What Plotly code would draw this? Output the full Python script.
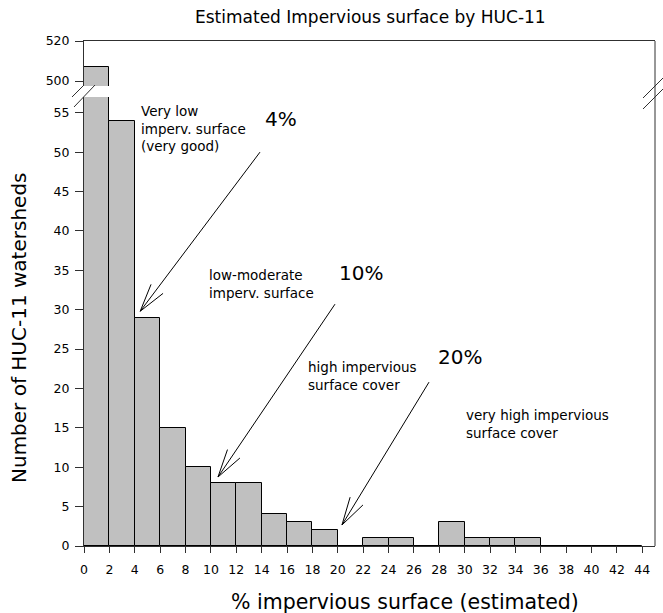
import plotly.graph_objects as go
import math

# ---------------- data ----------------
bin_left = list(range(0, 44, 2))            # 0,2,...,42
counts = [507, 54, 29, 15, 10, 8, 8, 4, 3, 2, 0, 1, 1, 0, 3, 1, 1, 1, 0, 0, 0, 0]
x_ticks = list(range(0, 45, 2))
y_ticks_low = list(range(0, 56, 5))
y_ticks_high = [500, 520]

title = "Estimated Impervious surface by HUC-11"
x_title = "% impervious surface (estimated)"
y_title = "Number of HUC-11 watersheds"

# annotation texts: (text, px_left, px_center_y, size)
labels = [
    ("Very low<br>imperv. surface<br>(very good)", 139, 128, 13.5),
    ("4%", 263, 119, 20),
    ("low-moderate<br>imperv. surface", 207, 284, 13.5),
    ("10%", 337, 273, 20),
    ("high impervious<br>surface cover", 306, 376, 13.5),
    ("20%", 436, 357, 20),
    ("very high impervious<br>surface cover", 464, 424, 13.5),
]
# arrows: (tail_x, tail_y, tip_x, tip_y) in data units of the lower panel
arrows = [
    (13.87, 50.0, 4.43, 29.8),
    (19.78, 30.7, 10.56, 8.76),
    (27.19, 20.8, 20.33, 2.67),
]

# ---------------- layout geometry ----------------
W, H = 663, 613
L, R, T, B = 84, 8, 41, 67
PW, PH = W - L - R, H - T - B
x_range = [0, 45]
low_range = [0, 57]
high_range = [497.5, 520]
low_top_px = 97
high_bot_px = 86
d1 = (H - B - low_top_px) / PH
d2 = (H - B - high_bot_px) / PH

def px2paper(px, py):
    return (px - L) / PW, (H - B - py) / PH

fnt = "DejaVu Sans, Arial, sans-serif"
centers = [b + 1 for b in bin_left]

fig = go.Figure()
for ax in ["x", "x2"]:
    fig.add_trace(go.Bar(
        x=centers, y=counts, width=2,
        marker=dict(color="#c0c0c0", line=dict(color="black", width=1)),
        xaxis=ax, yaxis="y" if ax == "x" else "y2",
        showlegend=False, hoverinfo="skip"))

axcommon = dict(showgrid=False, zeroline=False, showline=True, linecolor="#303030",
                linewidth=1, ticks="outside", tickcolor="#303030",
                tickfont=dict(family=fnt, size=12.5, color="black"))

fig.update_layout(
    width=W, height=H, margin=dict(l=L, r=R, t=T, b=B),
    plot_bgcolor="white", paper_bgcolor="white", bargap=0,
    xaxis=dict(axcommon, range=x_range, tickvals=x_ticks, anchor="y",
               ticklen=6, ticklabelstandoff=6),
    xaxis2=dict(showgrid=False, zeroline=False, showline=True, linecolor="#303030",
                range=x_range, anchor="y2", side="top", showticklabels=False,
                ticks="", matches="x"),
    yaxis=dict(axcommon, range=low_range, tickvals=y_ticks_low, domain=[0, d1],
               ticklen=8, ticklabelstandoff=3),
    yaxis2=dict(axcommon, range=high_range, tickvals=y_ticks_high, domain=[d2, 1],
                ticklen=8, ticklabelstandoff=3),
)

shapes = []
# right frame line, continuous
shapes.append(dict(type="line", xref="paper", yref="paper", x0=1, x1=1, y0=0, y1=1,
                   line=dict(color="#303030", width=1)))
# break marks (pixel coordinates -> paper)
for (a, b_, c, d) in [(72, 97, 84, 85), (74, 107, 95, 85),
                      (643, 98, 663, 78), (643, 109, 663, 89)]:
    x0, y0 = px2paper(a, b_)
    x1, y1 = px2paper(c, d)
    shapes.append(dict(type="line", xref="paper", yref="paper", x0=x0, y0=y0, x1=x1, y1=y1,
                       line=dict(color="#303030", width=1)))

# arrows with open V heads
sx = PW / (x_range[1] - x_range[0])
sy = (d1 * PH) / (low_range[1] - low_range[0])
for (tx, ty, hx, hy) in arrows:
    dxp = (tx - hx) * sx
    dyp = (ty - hy) * sy
    ang = math.atan2(dyp, dxp)
    hl = 29
    path = f"M{tx},{ty} L{hx},{hy}"
    for s in (-1, 1):
        a2 = ang + s * math.radians(15)
        ex = hx + hl * math.cos(a2) / sx
        ey = hy + hl * math.sin(a2) / sy
        path += f" M{hx},{hy} L{ex},{ey}"
    shapes.append(dict(type="path", xref="x", yref="y", path=path,
                       line=dict(color="black", width=1)))
fig.update_layout(shapes=shapes)

ann = []
for (txt, px, py, sz) in labels:
    xp, yp = px2paper(px, py)
    ann.append(dict(text=txt, x=xp, y=yp, xref="paper", yref="paper",
                    xanchor="left", yanchor="middle", align="left", showarrow=False,
                    font=dict(family=fnt, size=sz, color="black")))
# titles
xp, yp = px2paper(370, 17)
ann.append(dict(text=title, x=xp, y=yp, xref="paper", yref="paper", xanchor="center",
                yanchor="middle", showarrow=False, font=dict(family=fnt, size=17, color="black")))
xp, yp = px2paper(405, 602)
ann.append(dict(text=x_title, x=xp, y=yp, xref="paper", yref="paper", xanchor="center",
                yanchor="middle", showarrow=False, font=dict(family=fnt, size=20.5, color="black")))
xp, yp = px2paper(19, 328)
ann.append(dict(text=y_title, x=xp, y=yp, xref="paper", yref="paper", xanchor="center",
                yanchor="middle", textangle=-90, showarrow=False,
                font=dict(family=fnt, size=20, color="black")))
fig.update_layout(annotations=ann)

fig.write_html("out.html")
